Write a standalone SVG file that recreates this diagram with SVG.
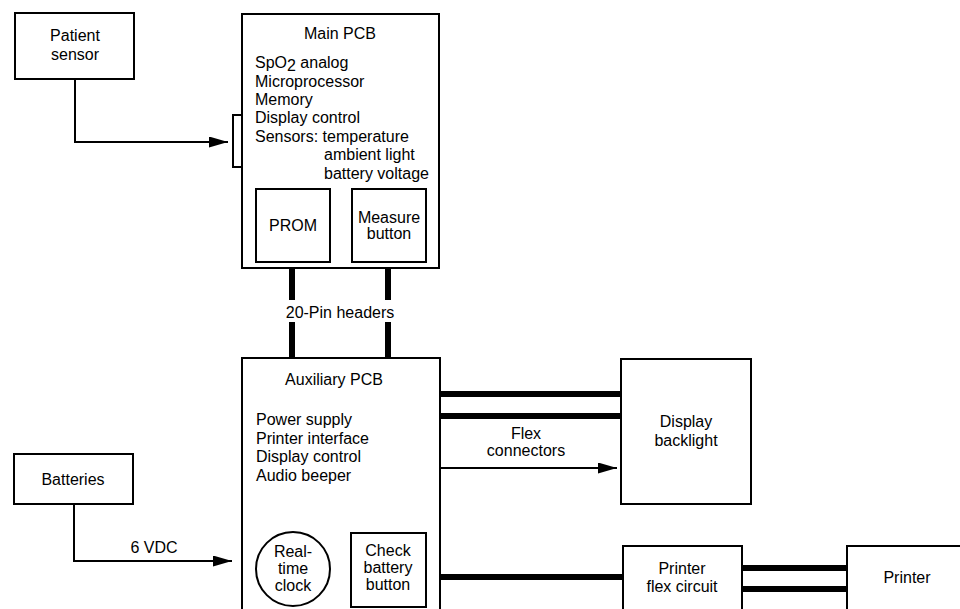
<svg xmlns="http://www.w3.org/2000/svg" width="960" height="609" viewBox="0 0 960 609">
<defs>
<style>
.box{fill:#fff;stroke:#000;stroke-width:2}
.t{font-family:"Liberation Sans",Arial,sans-serif;font-size:16px;fill:#000}
.c{text-anchor:middle}
.thin{fill:none;stroke:#000;stroke-width:2}
.thick{fill:none;stroke:#000;stroke-width:6}
</style>
<marker id="ah" markerUnits="userSpaceOnUse" markerWidth="20" markerHeight="12" refX="19" refY="5.5" orient="auto">
<polygon points="0,0 19,5.5 0,11" fill="#000"/>
</marker>
</defs>
<rect width="960" height="609" fill="#fff"/>

<g id="connectors">
<polyline class="thin" points="75,79 75,142 228,142" marker-end="url(#ah)"/>
<line class="thick" x1="292" y1="268" x2="292" y2="300"/>
<line class="thick" x1="292" y1="322" x2="292" y2="358"/>
<line class="thick" x1="388" y1="268" x2="388" y2="300"/>
<line class="thick" x1="388" y1="322" x2="388" y2="358"/>
<text class="t c" x="340" y="318">20-Pin headers</text>
<line class="thick" x1="440" y1="394" x2="621" y2="394"/>
<line class="thick" x1="440" y1="416" x2="621" y2="416"/>
<line class="thin" x1="440" y1="468" x2="617" y2="468" marker-end="url(#ah)"/>
<text class="t c" x="526" y="439">Flex</text>
<text class="t c" x="526" y="456">connectors</text>
<polyline class="thin" points="74,504 74,561 232,561" marker-end="url(#ah)"/>
<text class="t c" x="154" y="553">6 VDC</text>
<line class="thick" x1="440" y1="577" x2="623" y2="577"/>
<line class="thick" x1="742" y1="568" x2="847" y2="568"/>
<line class="thick" x1="742" y1="589" x2="847" y2="589"/>
</g>

<g id="patient-sensor">
<rect class="box" x="15" y="13" width="119" height="66"/>
<text class="t c" x="75" y="41">Patient</text>
<text class="t c" x="75" y="60">sensor</text>
</g>

<g id="main-pcb">
<rect class="box" x="242" y="14" width="197" height="254"/>
<rect class="box" x="233" y="115" width="9" height="52"/>
<text class="t c" x="340" y="39">Main PCB</text>
<text class="t" x="255" y="68">SpO<tspan dy="3">2</tspan><tspan dy="-3"> analog</tspan></text>
<text class="t" x="255" y="86.5">Microprocessor</text>
<text class="t" x="255" y="105">Memory</text>
<text class="t" x="255" y="123">Display control</text>
<text class="t" x="255" y="141.5">Sensors: temperature</text>
<text class="t" x="324" y="160">ambient light</text>
<text class="t" x="324" y="178.5">battery voltage</text>
</g>

<g id="prom">
<rect class="box" x="256" y="189" width="74" height="73"/>
<text class="t c" x="293" y="231">PROM</text>
</g>

<g id="measure-button">
<rect class="box" x="352" y="189" width="74" height="73"/>
<text class="t c" x="389" y="223">Measure</text>
<text class="t c" x="389" y="239">button</text>
</g>

<g id="auxiliary-pcb">
<rect class="box" x="242" y="358" width="198" height="260"/>
<text class="t c" x="334" y="385">Auxiliary PCB</text>
<text class="t" x="256" y="425">Power supply</text>
<text class="t" x="256" y="443.5">Printer interface</text>
<text class="t" x="256" y="462">Display control</text>
<text class="t" x="256" y="480.5">Audio beeper</text>
</g>

<g id="real-time-clock">
<circle cx="293" cy="569" r="37" fill="#fff" stroke="#000" stroke-width="2"/>
<text class="t c" x="293" y="557">Real-</text>
<text class="t c" x="293" y="574">time</text>
<text class="t c" x="293" y="591">clock</text>
</g>

<g id="check-battery-button">
<rect class="box" x="351" y="533" width="75" height="74"/>
<text class="t c" x="388" y="556">Check</text>
<text class="t c" x="388" y="573">battery</text>
<text class="t c" x="388" y="590">button</text>
</g>

<g id="display-backlight">
<rect class="box" x="621" y="359" width="130" height="145"/>
<text class="t c" x="686" y="427">Display</text>
<text class="t c" x="686" y="446">backlight</text>
</g>

<g id="batteries">
<rect class="box" x="14" y="454" width="119" height="50"/>
<text class="t c" x="73" y="485">Batteries</text>
</g>

<g id="printer-flex-circuit">
<rect class="box" x="623" y="546" width="119" height="70"/>
<text class="t c" x="682" y="574">Printer</text>
<text class="t c" x="682" y="592">flex circuit</text>
</g>

<g id="printer">
<rect class="box" x="847" y="546" width="120" height="70"/>
<text class="t c" x="907" y="583">Printer</text>
</g>
</svg>
